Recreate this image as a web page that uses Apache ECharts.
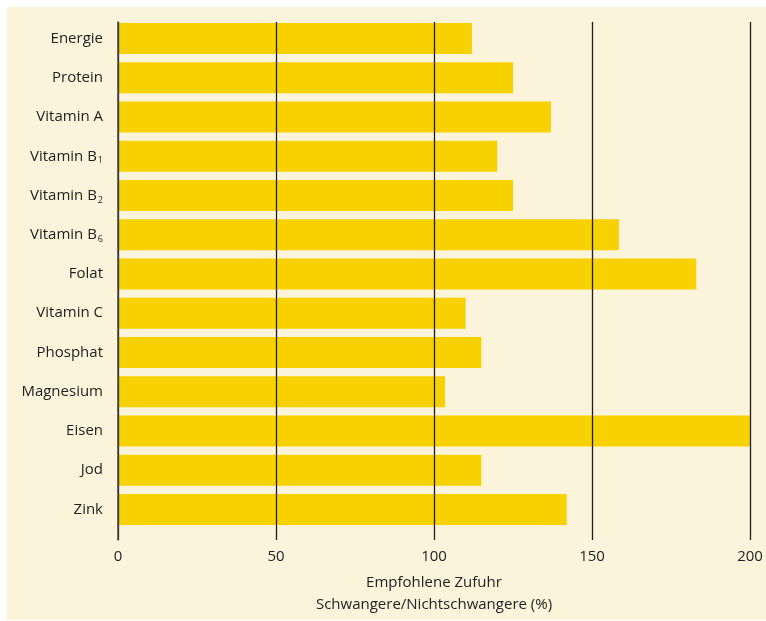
<!DOCTYPE html>
<html>
<head>
<meta charset="utf-8">
<style>
  html, body { margin: 0; padding: 0; background: #ffffff; }
  #chart { width: 766px; height: 621px; }
</style>
<script src="https://cdn.jsdelivr.net/npm/echarts@6/dist/echarts.min.js"></script>
</head>
<body>
<div id="chart"></div>
<script>
// Nutrients (trailing digit in a vitamin name is drawn as subscript)
const categories = ['Energie', 'Protein', 'Vitamin A', 'Vitamin B1', 'Vitamin B2', 'Vitamin B6',
  'Folat', 'Vitamin C', 'Phosphat', 'Magnesium', 'Eisen', 'Jod', 'Zink'];
// Recommended intake, pregnant vs. non-pregnant (%)
const values = [112, 125, 137, 120, 125, 158.5, 183, 110, 115, 103.5, 200, 115, 142];
const xTicks = [0, 50, 100, 150, 200];
const axisTitle = 'Empfohlene Zufuhr\nSchwangere/Nichtschwangere (%)';

const FONT = '"Open Sans", "Noto Sans", sans-serif';
const TEXT = '#222222';
const BAR = '#f7d200';
const PANEL = '#fcf4da';

function labelFormatter(name) {
  const m = name.match(/^(.*B)(\d)$/);
  return m ? '{t|' + m[1] + '}{s|' + m[2] + '}' : '{t|' + name + '}';
}

const chart = echarts.init(document.getElementById('chart'), null, { renderer: 'canvas' });

chart.setOption({
  backgroundColor: '#ffffff',
  animation: false,
  graphic: [{
    type: 'rect', z: -10, silent: true,
    shape: { x: 7, y: 7, width: 759, height: 613 },
    style: { fill: PANEL }
  }],
  grid: [
    // reference lines and value axis
    { left: 118, right: 16, top: 22, bottom: 81, containLabel: false },
    // bars
    { left: 118, right: 16, top: 19, height: 510, containLabel: false }
  ],
  xAxis: [
    {
      gridIndex: 0, type: 'value', min: xTicks[0], max: xTicks[xTicks.length - 1],
      interval: xTicks[1] - xTicks[0], z: 5,
      axisLine: { show: false }, axisTick: { show: false },
      splitLine: { show: true, lineStyle: { color: '#1e1e1e', width: 1.3 } },
      axisLabel: { color: TEXT, fontFamily: FONT, fontSize: 15, margin: 9 },
      name: axisTitle, nameLocation: 'middle', nameGap: 32,
      nameTextStyle: { color: TEXT, fontFamily: FONT, fontSize: 15, lineHeight: 22 }
    },
    {
      gridIndex: 1, type: 'value', min: xTicks[0], max: xTicks[xTicks.length - 1], show: false
    }
  ],
  yAxis: [
    {
      gridIndex: 0, type: 'value', z: 5,
      axisLine: { show: true, lineStyle: { color: '#444444', width: 1.5 } },
      axisTick: { show: false }, axisLabel: { show: false }, splitLine: { show: false }
    },
    {
      gridIndex: 1, type: 'category', inverse: true, data: categories,
      axisLine: { show: false }, axisTick: { show: false }, splitLine: { show: false },
      axisLabel: {
        margin: 15, formatter: labelFormatter,
        rich: {
          t: { color: TEXT, fontFamily: FONT, fontSize: 15 },
          s: { color: TEXT, fontFamily: FONT, fontSize: 9, padding: [9, 0, 0, 1] }
        }
      }
    }
  ],
  series: [{
    type: 'bar', xAxisIndex: 1, yAxisIndex: 1, z: 2,
    data: values, barWidth: 31,
    itemStyle: { color: BAR },
    silent: true
  }]
});
</script>
</body>
</html>
